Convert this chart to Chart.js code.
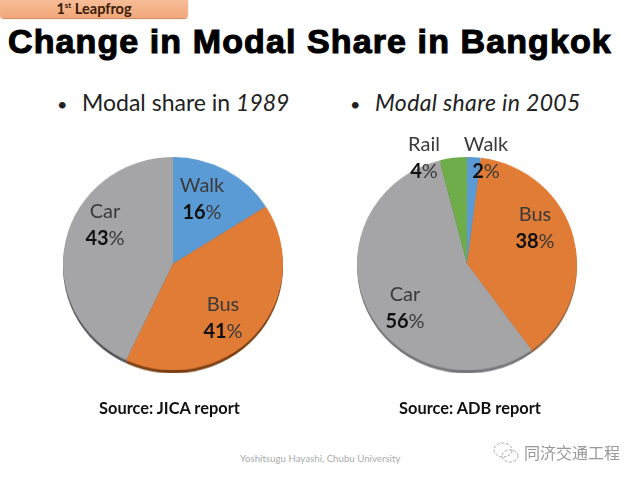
<!DOCTYPE html>
<html>
<head>
<meta charset="utf-8">
<script src="https://cdn.jsdelivr.net/npm/chart.js@4"></script>
<style>
  html,body{margin:0;padding:0;background:#fff;}
  #page{position:relative;width:640px;height:480px;overflow:hidden;font-family:"Lato",sans-serif;color:#222;}
  #page canvas{position:absolute;transform-origin:0 0;transform:scaleY(.97);}
  .t{position:absolute;white-space:nowrap;}
  .lbl{position:absolute;text-align:center;font-size:20px;line-height:27px;color:#3a3a3a;transform:translateX(-50%);font-family:"Lato",sans-serif;}
  .lbl b{color:#111;}
  #tag{left:0;top:0;width:188px;height:18px;background:linear-gradient(#f6bd98,#f2a77a);border-radius:0 0 4px 4px;box-shadow:0 1px 1px #c9865a;text-align:center;font:bold 14.5px/18px "Lato",sans-serif;color:#3a1d08;}
  #tag sup{font-size:8px;line-height:0;}
  #title{left:8px;top:19px;font:bold 34px/44px "Liberation Sans",sans-serif;color:#000;-webkit-text-stroke:1.1px #000;letter-spacing:1.1px;}
  .sub{font:23px/30px "Lato",sans-serif;top:87px;color:#222;}
  .sub span{display:inline-block;width:25px;font-size:18px;}
  .src{font:bold 16.4px/20px "Lato",sans-serif;top:398px;color:#111;}
  #credit{left:240px;top:451px;font:9.7px/14px "Lato",sans-serif;color:#aaa;}
  #wm{left:524px;top:440px;font:16px/24px "Noto Sans CJK SC",sans-serif;color:#999;}
  #wmicon{position:absolute;left:492px;top:441px;}
</style>
</head>
<body>
<div id="page">
  <div id="tag" class="t">1<sup>st</sup> Leapfrog</div>
  <div id="title" class="t">Change in Modal Share in Bangkok</div>
  <div class="t sub" style="left:57px"><span>•</span>Modal share in <i>1989</i></div>
  <div class="t sub" style="left:350px"><span>•</span><i style="letter-spacing:.35px">Modal share in 2005</i></div>
  <canvas id="shade1"></canvas>
  <canvas id="pie1"></canvas>
  <canvas id="shade2"></canvas>
  <canvas id="pie2"></canvas>
  <div id="labels"></div>
  <div class="t src" style="left:99px">Source: JICA report</div>
  <div class="t src" style="left:399px">Source: ADB report</div>
  <div id="credit" class="t">Yoshitsugu Hayashi, Chubu University</div>
  <svg id="wmicon" width="28" height="24" fill="none" stroke="#aaa" stroke-width="1" stroke-dasharray="3 1.5">
    <ellipse cx="11" cy="9" rx="9" ry="7"/>
    <ellipse cx="18" cy="15" rx="8" ry="6"/>
  </svg>
  <div id="wm" class="t">同济交通工程</div>
</div>
<script>
const labels1989 = ["Walk","Bus","Car"];
const values1989 = [16,41,43];
const colors1989 = ["#5b9bd5","#e07c35","#a5a5a7"];
const dark1989 = ["#3d6d99","#7a3f12","#55555a"];

const labels2005 = ["Walk","Bus","Car","Rail"];
const values2005 = [2,38,56,4];
const colors2005 = ["#5b9bd5","#e07c35","#a5a5a7","#6fad4a"];
const dark2005 = ["#3d6d99","#9a6a45","#77777a","#4d7a33"];

// label spots, one per slice
const spots1989 = [[202,198],[223,317],[105,224]];
const spots2005 = [[486,157],[535,227],[405,307],[424,157]];

function makePie(id,x,y,size,labels,values,colors){
  const c = document.getElementById(id);
  c.style.left = x+"px";
  c.style.top = y+"px";
  c.style.width = size+"px";
  c.style.height = size+"px";
  c.width = size;
  c.height = size;
  return new Chart(c,{
    type:"pie",
    data:{
      labels:labels,
      datasets:[{data:values,backgroundColor:colors,borderWidth:0}]
    },
    options:{
      responsive:false,
      animation:false,
      layout:{padding:0},
      plugins:{legend:{display:false},tooltip:{enabled:false}}
    }
  });
}

function addLabels(labels,values,spots){
  const box = document.getElementById("labels");
  labels.forEach((l,i)=>{
    box.innerHTML += `<div class="lbl" style="left:${spots[i][0]}px;top:${spots[i][1]-27}px">${l}<br><b>${values[i]}</b>%</div>`;
  });
}

makePie("shade1",63,160,220,labels1989,values1989,dark1989);
makePie("pie1",63,157,220,labels1989,values1989,colors1989);
makePie("shade2",357,160,220,labels2005,values2005,dark2005);
makePie("pie2",357,157,220,labels2005,values2005,colors2005);
addLabels(labels1989,values1989,spots1989);
addLabels(labels2005,values2005,spots2005);
</script>
</body>
</html>
